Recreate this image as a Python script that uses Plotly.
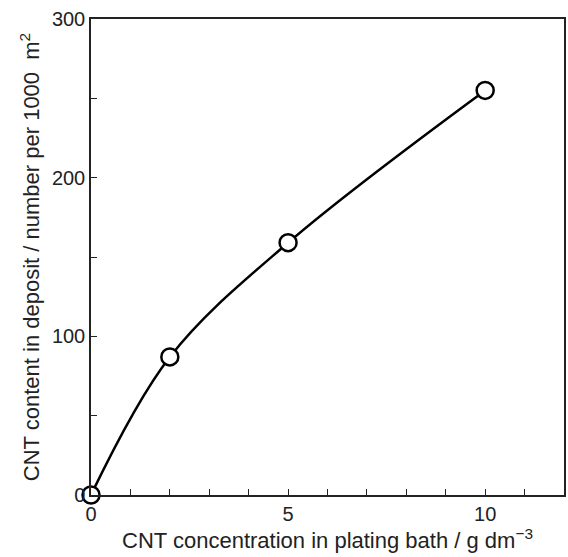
import plotly.graph_objects as go

conc = [0, 2, 5, 10]
cnt_content = [0, 87, 159, 255]
x_tickvals = [0, 5, 10]
y_tickvals = [0, 100, 200, 300]

fig = go.Figure()
fig.add_trace(go.Scatter(
    x=conc, y=cnt_content, mode="lines+markers",
    line=dict(color="black", width=2.5, shape="spline", smoothing=1.0),
    marker=dict(symbol="circle", size=17, color="white", line=dict(color="black", width=2.5)),
    cliponaxis=False, showlegend=False,
))

font = dict(family="Liberation Sans, Arial, sans-serif", size=18, color="#222")
tickfont = dict(family="Liberation Sans, Arial, sans-serif", size=20, color="#222")
fig.update_layout(
    width=568, height=557,
    margin=dict(l=91, r=2, t=19, b=62),
    plot_bgcolor="white", paper_bgcolor="white",
    font=font,
    xaxis=dict(
        range=[0, 12], tickvals=x_tickvals, ticks="inside", ticklen=6, tickcolor="#222",
        tickfont=tickfont,
        minor=dict(dtick=1, ticks="inside", ticklen=6, tickcolor="#222"),
        showline=True, linecolor="#222", linewidth=1.5, mirror=True, showgrid=False, zeroline=False,
        title=dict(text="CNT concentration in plating bath / g dm<sup>−3</sup>", standoff=6),
    ),
    yaxis=dict(
        range=[0, 300], tickvals=y_tickvals, ticks="inside", ticklen=6, tickcolor="#222",
        tickfont=tickfont,
        minor=dict(dtick=50, ticks="inside", ticklen=6, tickcolor="#222"),
        showline=True, linecolor="#222", linewidth=1.5, mirror=True, showgrid=False, zeroline=False,
        title=dict(text="CNT content in deposit / number per 1000  m<sup>2</sup>", standoff=6),
    ),
)
fig.write_html("out.html")
